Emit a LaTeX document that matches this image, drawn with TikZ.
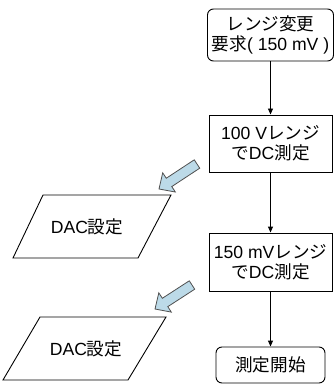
\documentclass[tikz,border=0pt]{standalone}
\usepackage{fontspec}
\setmainfont{Liberation Sans}
\newfontfamily\cjkf{Noto Sans CJK JP}
\newcommand\JP[1]{{\cjkf #1}}
\usetikzlibrary{arrows.meta,calc}
\definecolor{bluefill}{RGB}{188,218,232}
\definecolor{blueedge}{RGB}{80,80,80}
\tikzset{
  proc/.style={draw=black, line width=0.9pt, align=center, inner sep=1pt, fill=white},
  rproc/.style={proc, rounded corners=6pt},
  conn/.style={draw=black, line width=0.9pt, -{Triangle[length=6pt,width=5pt]}},
  para/.style={draw=black, line width=0.9pt},
  ptext/.style={inner sep=0pt},
  bigarrow/.style={fill=bluefill, draw=blueedge, line width=0.8pt, line join=miter}
}
\newcommand\blockarrow[2]{%
  \path ($(#2)!12pt!(#1)$) coordinate (hb);
  \draw[bigarrow] ($(#1)!5pt!90:(#2)$) -- ($(hb)!5pt!-90:(#1)$) -- ($(hb)!11.5pt!-90:(#1)$) -- (#2)
     -- ($(hb)!11.5pt!90:(#1)$) -- ($(hb)!5pt!90:(#1)$) -- ($(#1)!5pt!-90:(#2)$) -- cycle;
}
\begin{document}
\begin{tikzpicture}[x=1pt,y=-1pt, font=\fontsize{17.6}{20}\selectfont]
\useasboundingbox (0,0) rectangle (334,385);
\node[rproc, minimum width=126pt, minimum height=52pt] (req) at (270.5,35) {\JP{レンジ変更}\\\JP{要求}( 150 mV )};
\node[proc, minimum width=123pt, minimum height=57pt] (r100) at (270.5,143.5) {100 V\JP{レンジ}\\\JP{で}DC\JP{測定}};
\node[proc, minimum width=123pt, minimum height=58pt] (r150) at (270.5,262) {150 mV\JP{レンジ}\\\JP{で}DC\JP{測定}};
\node[rproc, minimum width=109pt, minimum height=36pt] (start) at (270.5,365) {\JP{測定開始}};
\draw[conn] (req) -- (r100);
\draw[conn] (r100) -- (r150);
\draw[conn] (r150) -- (start);
% parallelogram 1
\coordinate (p1a) at (43,195); \coordinate (p1b) at (171,195);
\coordinate (p1c) at (138,258); \coordinate (p1d) at (13,258);
\draw[para] (p1a) -- (p1b) -- (p1c) -- (p1d) -- cycle;
\node[ptext] (dac1) at (87,227) {DAC\JP{設定}};
% parallelogram 2
\coordinate (p2a) at (40,317); \coordinate (p2b) at (166,317);
\coordinate (p2c) at (128,380); \coordinate (p2d) at (3,380);
\draw[para] (p2a) -- (p2b) -- (p2c) -- (p2d) -- cycle;
\node[ptext] (dac2) at (86,349) {DAC\JP{設定}};
% block arrows
\coordinate (a1t) at (197,164); \coordinate (a1h) at (159,189);
\coordinate (a2t) at (192,285); \coordinate (a2h) at (155,309);
\blockarrow{a1t}{a1h}
\blockarrow{a2t}{a2h}
\end{tikzpicture}
\end{document}
